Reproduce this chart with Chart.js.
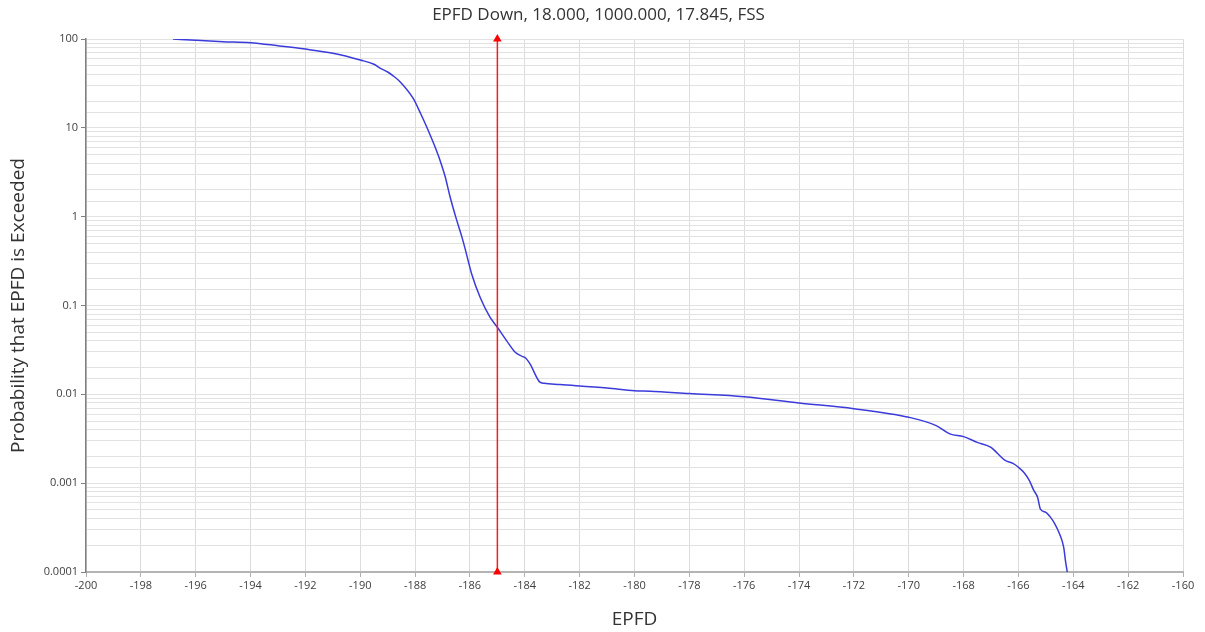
<!DOCTYPE html>
<html>
<head>
<meta charset="utf-8">
<script src="https://cdn.jsdelivr.net/npm/chart.js@4.4.0/dist/chart.umd.min.js"></script>
<style>
  html, body { margin: 0; padding: 0; background: #ffffff; }
  #wrap { width: 1205px; height: 632px; position: relative; }
</style>
</head>
<body>
<div id="wrap"><canvas id="c" width="1205" height="632"></canvas></div>
<script>
// ---- data ----
const titleText = "EPFD Down, 18.000, 1000.000, 17.845, FSS";
const xTitle = "EPFD";
const yTitle = "Probability that EPFD is Exceeded";

const epfdX = [-196.83, -196.0, -195.0, -194.0, -193.0, -192.0, -191.0, -190.0, -189.5, -189.28,
  -189.0, -188.8, -188.55, -188.07, -187.8, -187.58, -187.3, -187.09, -186.9, -186.73,
  -186.5, -186.3, -186.18, -185.94, -185.63, -185.27, -185.02, -184.66, -184.36, -184.1,
  -183.99, -183.81, -183.45, -183.3, -182.72, -181.0, -180.0, -179.43, -178.0, -176.0,
  -174.0, -172.0, -170.0, -169.0, -168.5, -168.0, -167.5, -167.0, -166.8, -166.5,
  -166.2, -166.0, -165.8, -165.6, -165.45, -165.3, -165.2, -165.0, -164.85, -164.7,
  -164.5, -164.35, -164.28, -164.22];
const probY = [100, 96.7, 93.3, 90.9, 84, 77, 69, 58, 51.9, 47,
  42.5, 38.5, 33, 21.4, 14.5, 10.3, 6.4, 4.3, 2.8, 1.7,
  0.95, 0.6, 0.44, 0.228, 0.124, 0.074, 0.058, 0.040, 0.030, 0.0268,
  0.026, 0.022, 0.0137, 0.0133, 0.0129, 0.0118, 0.0110, 0.01084, 0.0102, 0.0094,
  0.0080, 0.0069, 0.00552, 0.00445, 0.00359, 0.00334, 0.00288, 0.00253, 0.00222, 0.00182,
  0.00167, 0.00151, 0.00132, 0.00107, 0.00084, 0.00069, 0.00051, 0.00047, 0.00042, 0.00036,
  0.000268, 0.000189, 0.00013, 0.0001];

const limitX = [-185, -185];
const limitY = [0.0001, 100];

const xMin = -200, xMax = -160, xStep = 2;
const yMin = 0.0001, yMax = 100;

// ---- chart ----
const FONT = "'Open Sans', 'Noto Sans', sans-serif";
const curve = epfdX.map((x, i) => ({ x: x, y: probY[i] }));
const limit = limitX.map((x, i) => ({ x: x, y: limitY[i] }));

function isPow10(v) {
  const l = Math.log10(v);
  return Math.abs(l - Math.round(l)) < 1e-6;
}
function fmtPow10(v) {
  const e = Math.round(Math.log10(v));
  return e < 0 ? Math.pow(10, e).toFixed(-e) : String(Math.pow(10, e));
}

const titlePlugin = {
  id: 'topTitle',
  afterDraw(chart) {
    const ctx = chart.ctx;
    ctx.save();
    ctx.font = "17px " + FONT;
    ctx.fillStyle = "#333333";
    ctx.textAlign = "center";
    ctx.textBaseline = "middle";
    ctx.fillText(titleText, chart.width / 2 - 4, 15);
    ctx.restore();
  }
};

new Chart(document.getElementById('c'), {
  type: 'line',
  data: {
    datasets: [
      {
        label: 'limit',
        data: limit,
        borderColor: '#ff1a1a',
        backgroundColor: '#ff0000',
        borderWidth: 1.5,
        pointStyle: 'triangle',
        pointRadius: 5,
        pointBackgroundColor: '#ff0000',
        pointBorderColor: '#ff0000',
        pointBorderWidth: 0,
        clip: false
      },
      {
        label: 'EPFD',
        data: curve,
        borderColor: '#3b3bdc',
        borderWidth: 1.5,
        pointRadius: 0,
        cubicInterpolationMode: 'monotone',
        fill: false
      }
    ]
  },
  options: {
    responsive: false,
    animation: false,
    devicePixelRatio: 1,
    layout: { padding: { left: 0, right: 22, top: 39, bottom: 0 } },
    plugins: {
      legend: { display: false },
      tooltip: { enabled: false },
      title: { display: false }
    },
    scales: {
      x: {
        type: 'linear',
        min: xMin,
        max: xMax,
        afterFit(scale) { scale.height = 60; },
        ticks: {
          stepSize: xStep,
          autoSkip: false,
          maxRotation: 0,
          padding: 2,
          color: '#404040',
          font: { family: FONT, size: 11 },
          callback: (v) => String(v)
        },
        grid: {
          color: '#dcdcdc',
          lineWidth: 1,
          tickLength: 5,
          tickColor: '#b0b0b0'
        },
        border: { color: '#b4b4b4', width: 2 },
        title: {
          display: true,
          text: xTitle,
          color: '#333333',
          font: { family: FONT, size: 19 },
          padding: { top: 0, bottom: 1 }
        }
      },
      y: {
        type: 'logarithmic',
        min: yMin,
        max: yMax,
        afterFit(scale) { scale.width = 86; },
        ticks: {
          autoSkip: false,
          padding: 3,
          color: '#404040',
          font: { family: FONT, size: 11 },
          callback: (v) => isPow10(v) ? fmtPow10(v) : ''
        },
        grid: {
          color: '#e2e2e2',
          lineWidth: 1,
          tickLength: 5,
          tickColor: (ctx) => (ctx.tick && isPow10(ctx.tick.value)) ? '#808080' : 'rgba(0,0,0,0)'
        },
        border: { color: '#808080', width: 1.5 },
        title: {
          display: true,
          text: yTitle,
          color: '#333333',
          font: { family: FONT, size: 19 },
          padding: { top: 7, bottom: 4 }
        }
      }
    }
  },
  plugins: [titlePlugin]
});
</script>
</body>
</html>
